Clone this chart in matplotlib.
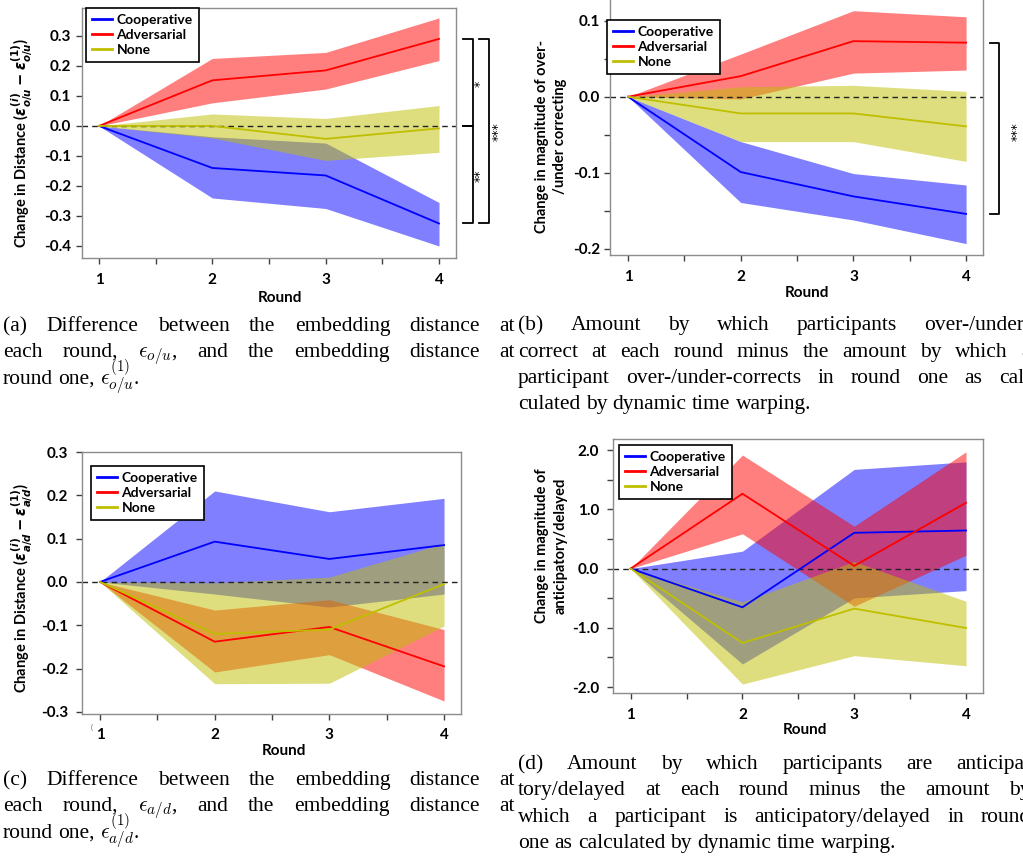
import matplotlib
matplotlib.use("Agg")
import matplotlib.pyplot as plt
from matplotlib.transforms import IdentityTransform, blended_transform_factory
from matplotlib.ticker import MultipleLocator, FuncFormatter
from matplotlib.lines import Line2D

# ---------------- data ----------------
rounds = [1, 2, 3, 4]
series_names = ["Cooperative", "Adversarial", "None"]

# panel (a)
a_coop_mean = [0, -0.140, -0.165, -0.325]
a_coop_lo = [0, -0.240, -0.275, -0.400]
a_coop_hi = [0, -0.036, -0.057, -0.255]
a_adv_mean = [0, 0.152, 0.185, 0.290]
a_adv_lo = [0, 0.077, 0.123, 0.218]
a_adv_hi = [0, 0.225, 0.245, 0.360]
a_none_mean = [0, 0.000, -0.043, -0.008]
a_none_lo = [0, -0.040, -0.115, -0.088]
a_none_hi = [0, 0.040, 0.025, 0.068]

# panel (b)
b_coop_mean = [0, -0.099, -0.131, -0.154]
b_coop_lo = [0, -0.139, -0.162, -0.193]
b_coop_hi = [0, -0.059, -0.101, -0.116]
b_adv_mean = [0, 0.027, 0.073, 0.071]
b_adv_lo = [0, -0.003, 0.031, 0.035]
b_adv_hi = [0, 0.056, 0.113, 0.105]
b_none_mean = [0, -0.022, -0.022, -0.039]
b_none_lo = [0, -0.059, -0.059, -0.085]
b_none_hi = [0, 0.013, 0.015, 0.007]

# panel (c)
c_coop_mean = [0, 0.093, 0.053, 0.085]
c_coop_lo = [0, -0.028, -0.058, -0.028]
c_coop_hi = [0, 0.210, 0.162, 0.193]
c_adv_mean = [0, -0.138, -0.104, -0.195]
c_adv_lo = [0, -0.208, -0.168, -0.275]
c_adv_hi = [0, -0.065, -0.041, -0.110]
c_none_mean = [0, -0.120, -0.110, -0.005]
c_none_lo = [0, -0.235, -0.234, -0.102]
c_none_hi = [0, -0.002, 0.011, 0.089]

# panel (d)
d_coop_mean = [0, -0.654, 0.603, 0.642]
d_coop_lo = [0, -1.610, -0.496, -0.372]
d_coop_hi = [0, 0.293, 1.673, 1.800]
d_adv_mean = [0, 1.262, 0.045, 1.110]
d_adv_lo = [0, 0.586, -0.637, 0.225]
d_adv_hi = [0, 1.915, 0.715, 1.970]
d_none_mean = [0, -1.256, -0.676, -1.003]
d_none_lo = [0, -1.950, -1.470, -1.640]
d_none_hi = [0, -0.563, 0.118, -0.552]

# significance brackets (y ends in data units) and labels
a_brackets = [(0.29, 0.0, "*"), (0.0, -0.325, "**")]
a_outer = (0.29, -0.325, "***")
b_outer = (0.071, -0.154, "***")

captions = {
    "a": ["(a) Difference between the embedding distance at",
          r"each round, $\epsilon_{o/u}$, and the embedding distance at",
          r"round one, $\epsilon^{(1)}_{o/u}$."],
    "b": ["(b) Amount by which participants over-/under-",
          "correct at each round minus the amount by which a",
          "participant over-/under-corrects in round one as cal-",
          "culated by dynamic time warping."],
    "c": ["(c) Difference between the embedding distance at",
          r"each round, $\epsilon_{a/d}$, and the embedding distance at",
          r"round one, $\epsilon^{(1)}_{a/d}$."],
    "d": ["(d) Amount by which participants are anticipa-",
          "tory/delayed at each round minus the amount by",
          "which a participant is anticipatory/delayed in round",
          "one as calculated by dynamic time warping."],
}

# ---------------- style ----------------
plt.rcParams["font.family"] = ["Lato", "DejaVu Sans"]
plt.rcParams["font.weight"] = "bold"
plt.rcParams["mathtext.fontset"] = "custom"
plt.rcParams["mathtext.rm"] = "DejaVu Sans:bold"
plt.rcParams["mathtext.it"] = "DejaVu Sans:bold:italic"
plt.rcParams["mathtext.bf"] = "DejaVu Sans:bold"

W, H = 1023, 865
fig = plt.figure(figsize=(W / 100, H / 100), dpi=100)

COL = {"Cooperative": "#0000ff", "Adversarial": "#ff0000", "None": "#bfbf00"}


def add_axes(l, r, t, b):
    return fig.add_axes([l / W, 1 - b / H, (r - l) / W, (b - t) / H])


def fmt1(v, pos):
    s = f"{v:.1f}"
    return "0.0" if s == "-0.0" else s


def setup(ax, xlim, ylim, ystep, ylabel_every, xpad, ypad):
    ax.set_xlim(*xlim)
    ax.set_ylim(*ylim)
    ax.xaxis.set_major_locator(MultipleLocator(0.5))
    ax.xaxis.set_major_formatter(
        FuncFormatter(lambda v, p: f"{int(round(v))}" if abs(v - round(v)) < 1e-6 else ""))
    ax.yaxis.set_major_locator(MultipleLocator(ystep))

    def yf(v, p):
        k = v / ylabel_every
        if abs(k - round(k)) < 1e-6:
            return fmt1(v, p)
        return ""
    ax.yaxis.set_major_formatter(FuncFormatter(yf))
    for s in ax.spines.values():
        s.set_color("#8c8c8c")
        s.set_linewidth(1.0)
    ax.tick_params(axis="both", direction="out", length=4, width=1,
                   color="#404040", labelsize=11)
    ax.tick_params(axis="x", pad=xpad)
    ax.tick_params(axis="y", pad=ypad)
    for lab in ax.get_xticklabels() + ax.get_yticklabels():
        lab.set_fontweight("bold")


def draw(ax, data):
    for name in series_names:
        m, lo, hi = data[name]
        ax.fill_between(rounds, lo, hi, color=COL[name], alpha=0.5, lw=0, zorder=1)
    for name in series_names:
        m, lo, hi = data[name]
        ax.plot(rounds, m, color=COL[name], lw=1.3, zorder=3)
    ax.axhline(0, color="#222222", lw=1.0, ls=(0, (4, 3)), zorder=2.5)


def legend(ax, dx_px, dy_px, ax_w_px, ax_h_px):
    handles = [Line2D([], [], color=COL[n], lw=2) for n in series_names]
    lg = ax.legend(handles, series_names, loc="upper left",
                   bbox_to_anchor=(dx_px / ax_w_px, 1 - dy_px / ax_h_px),
                   borderaxespad=0, frameon=True, fancybox=False,
                   prop={"family": "Lato", "weight": "bold", "size": 10},
                   handlelength=1.4, handletextpad=0.35, labelspacing=0.2,
                   borderpad=0.45)
    fr = lg.get_frame()
    fr.set_edgecolor("black")
    fr.set_linewidth(1.2)
    fr.set_alpha(1)
    lg.set_zorder(10)


def ptext(x, y, s, **kw):
    return fig.text(x, H - y, s, transform=IdentityTransform(), **kw)


# ---------------- panel (a) ----------------
axA = add_axes(82, 456, 8, 258)
setup(axA, (0.85, 4.15), (-0.44, 0.393), 0.1, 0.1, 7, 4)
draw(axA, {"Cooperative": (a_coop_mean, a_coop_lo, a_coop_hi),
           "Adversarial": (a_adv_mean, a_adv_lo, a_adv_hi),
           "None": (a_none_mean, a_none_lo, a_none_hi)})
legend(axA, 4, 0, 374, 250)
ptext(280, 298, "Round", ha="center", va="center", fontsize=11, fontweight="bold")
ptext(22, 143, r"Change in Distance ($\epsilon^{(i)}_{o/u} - \epsilon^{(1)}_{o/u}$)",
      rotation=90, ha="center", va="center", fontsize=10.5, fontweight="bold",
      math_fontfamily="custom")

trA = blended_transform_factory(axA.transAxes, axA.transData)
x_in0, x_in1 = (463 - 82) / 374, (473 - 82) / 374
x_out0, x_out1 = (479 - 82) / 374, (489 - 82) / 374
for (y0, y1, star) in a_brackets:
    axA.plot([x_in0, x_in1, x_in1, x_in0], [y0, y0, y1, y1], color="black",
             lw=1.3, transform=trA, clip_on=False)
    axA.text((480 - 82) / 374, (y0 + y1) / 2 - 0.005, star, transform=trA,
             rotation=90, ha="center", va="center", fontsize=9,
             fontweight="normal", family="DejaVu Sans")
y0, y1, star = a_outer
axA.plot([x_out0, x_out1, x_out1, x_out0], [y0, y0, y1, y1], color="black",
         lw=1.3, transform=trA, clip_on=False)
axA.text((498 - 82) / 374, (y0 + y1) / 2 + 0.0, star, transform=trA,
         rotation=90, ha="center", va="center", fontsize=9,
         fontweight="normal", family="DejaVu Sans")

# ---------------- panel (b) ----------------
axB = add_axes(610, 983, -2, 255)
setup(axB, (0.84, 4.15), (-0.208, 0.1297), 0.05, 0.1, 7, 3)
draw(axB, {"Cooperative": (b_coop_mean, b_coop_lo, b_coop_hi),
           "Adversarial": (b_adv_mean, b_adv_lo, b_adv_hi),
           "None": (b_none_mean, b_none_lo, b_none_hi)})
legend(axB, -3, 22, 373, 257)
ptext(807, 293, "Round", ha="center", va="center", fontsize=11, fontweight="bold")
ptext(551, 136, "Change in magnitude of over-\n/under correcting", rotation=90,
      ha="center", va="center", fontsize=10.5, fontweight="bold", linespacing=1.45)
trB = blended_transform_factory(axB.transAxes, axB.transData)
xb0, xb1 = (990 - 610) / 373, (999 - 610) / 373
y0, y1, star = b_outer
axB.plot([xb0, xb1, xb1, xb0], [y0, y0, y1, y1], color="black", lw=1.3,
         transform=trB, clip_on=False)
axB.text((1017 - 610) / 373, (y0 + y1) / 2 - 0.005, star, transform=trB,
         rotation=90, ha="center", va="center", fontsize=9,
         fontweight="normal", family="DejaVu Sans")

# ---------------- panel (c) ----------------
axC = add_axes(82, 461, 452, 714)
setup(axC, (0.843, 4.148), (-0.305, 0.3), 0.1, 0.1, 6, 6)
draw(axC, {"Cooperative": (c_coop_mean, c_coop_lo, c_coop_hi),
           "Adversarial": (c_adv_mean, c_adv_lo, c_adv_hi),
           "None": (c_none_mean, c_none_lo, c_none_hi)})
legend(axC, 9, 14, 379, 262)
ptext(284, 751, "Round", ha="center", va="center", fontsize=11, fontweight="bold")
ptext(22, 588, r"Change in Distance ($\epsilon^{(i)}_{a/d} - \epsilon^{(1)}_{a/d}$)",
      rotation=90, ha="center", va="center", fontsize=10.5, fontweight="bold",
      math_fontfamily="custom")
ptext(92, 727, "(", ha="center", va="center", fontsize=5, fontweight="normal",
      color="#555555")

# ---------------- panel (d) ----------------
axD = add_axes(613, 983, 439, 693)
setup(axD, (0.842, 4.152), (-2.10, 2.186), 0.5, 1.0, 7, 6)
draw(axD, {"Cooperative": (d_coop_mean, d_coop_lo, d_coop_hi),
           "Adversarial": (d_adv_mean, d_adv_lo, d_adv_hi),
           "None": (d_none_mean, d_none_lo, d_none_hi)})
legend(axD, 6, 6, 370, 254)
ptext(805, 730, "Round", ha="center", va="center", fontsize=11, fontweight="bold")
ptext(551, 546, "Change in magnitude of\nanticipatory/delayed", rotation=90,
      ha="center", va="center", fontsize=10.5, fontweight="bold", linespacing=1.45)

# ---------------- captions (justified) ----------------
renderer = fig.canvas.get_renderer()
CAP_FS = 15.5
CAP = dict(family="Liberation Serif", fontweight="normal", fontsize=CAP_FS,
           math_fontfamily="cm", color="black")


def caption(lines, x0, x1, baselines):
    for i, (line, yb) in enumerate(zip(lines, baselines)):
        words = line.split(" ")
        ts = [ptext(0, yb, w, ha="left", va="baseline", **CAP) for w in words]
        widths = [t.get_window_extent(renderer).width for t in ts]
        last = i == len(lines) - 1
        if not last and len(words) > 1:
            gap = (x1 - x0 - sum(widths)) / (len(words) - 1)
        else:
            gap = CAP_FS * 100 / 72 * 0.25
        x = x0
        for t, w in zip(ts, widths):
            t.set_position((x, H - yb))
            x += w + gap


caption(captions["a"], 3, 515, [331, 357, 384])
caption(captions["b"], 518, 1031, [330, 357, 383, 409])
caption(captions["c"], 3, 515, [785, 811, 838])
caption(captions["d"], 518, 1031, [769, 795, 822, 848])

fig.savefig("out.png", dpi=100)
